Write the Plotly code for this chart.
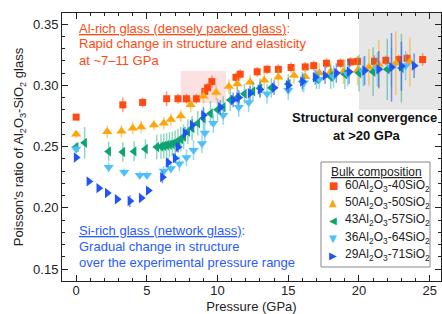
import plotly.graph_objects as go

# ---------------- data ----------------
P60 = [0.0, 3.3, 4.7, 6.4, 7.2, 7.8, 8.5, 9.1, 9.3, 9.6, 11.3, 11.6, 12.8, 13.5, 14.3, 15.2, 16.2, 16.8,
       17.7, 18.7, 19.4, 19.9, 21.1, 21.9, 22.8, 23.4, 24.5]
V60 = [0.274, 0.284, 0.286, 0.289, 0.289, 0.289, 0.289, 0.295, 0.298, 0.303, 0.3065, 0.309, 0.311, 0.313,
       0.313, 0.3145, 0.315, 0.316, 0.318, 0.318, 0.319, 0.3195, 0.3196, 0.3204, 0.321, 0.322, 0.321]
E60 = [0.002, 0.006, 0.004, 0.006, 0.004, 0.004, 0.004, 0.004, 0.004, 0.005, 0.004, 0.004, 0.004, 0.004,
       0.004, 0.004, 0.004, 0.004, 0.004, 0.004, 0.004, 0.004, 0.005, 0.004, 0.004, 0.004, 0.005]

P50 = [0.0, 2.2, 3.2, 4.0, 4.6, 5.5, 6.2, 6.7, 7.4, 8.1, 9.0, 9.9, 10.8, 11.4, 12.3, 13.3, 14.3, 15.4,
       16.2, 17.2, 18.0, 18.9, 19.9, 20.7, 21.4, 22.6, 23.6]
V50 = [0.260, 0.262, 0.2625, 0.265, 0.266, 0.2675, 0.269, 0.272, 0.275, 0.284, 0.291, 0.294, 0.299, 0.301,
       0.3025, 0.304, 0.3065, 0.308, 0.307, 0.310, 0.311, 0.311, 0.312, 0.3147, 0.317, 0.318, 0.319]
E50 = [0.003, 0.005, 0.005, 0.005, 0.005, 0.004, 0.005, 0.005, 0.005, 0.006, 0.006, 0.006, 0.006, 0.006,
       0.006, 0.007, 0.007, 0.007, 0.007, 0.008, 0.008, 0.010, 0.012, 0.015, 0.020, 0.026, 0.020]

P43 = [0.0, 0.6, 2.3, 3.3, 4.1, 4.9, 5.7, 6.0, 6.2, 6.4, 6.6, 6.8, 7.0, 7.2, 7.4, 7.6, 7.9, 8.2, 8.6,
       9.0, 9.5, 10.0, 10.4, 10.9, 11.4, 11.9, 12.5, 13.0, 13.8, 15.0, 16.0, 17.0, 18.0, 19.0, 20.0,
       21.0, 22.0, 23.0]
V43 = [0.2495, 0.253, 0.246, 0.2455, 0.246, 0.248, 0.2495, 0.250, 0.2505, 0.251, 0.2515, 0.252, 0.253,
       0.2545, 0.256, 0.258, 0.262, 0.265, 0.269, 0.273, 0.277, 0.280, 0.282, 0.288, 0.290, 0.293, 0.295,
       0.2975, 0.298, 0.301, 0.303, 0.305, 0.307, 0.309, 0.310, 0.311, 0.313, 0.314]
E43 = [0.004, 0.013, 0.008, 0.008, 0.008, 0.008, 0.010, 0.010, 0.010, 0.010, 0.010, 0.010, 0.010, 0.010,
       0.010, 0.010, 0.010, 0.010, 0.010, 0.010, 0.010, 0.009, 0.009, 0.009, 0.009, 0.008, 0.008, 0.008,
       0.008, 0.008, 0.008, 0.008, 0.010, 0.012, 0.015, 0.020, 0.025, 0.028]

P36 = [0.0, 2.3, 3.4, 4.5, 5.0, 6.2, 6.7, 7.3, 7.8, 8.3, 8.9, 9.1, 9.7, 10.4, 11.5, 12.2, 13.5, 15.0,
       16.1, 17.2, 18.2, 19.2, 20.3, 21.3, 22.3, 23.3]
V36 = [0.248, 0.233, 0.229, 0.2265, 0.2265, 0.230, 0.232, 0.236, 0.241, 0.247, 0.2525, 0.261, 0.269,
       0.2755, 0.282, 0.286, 0.293, 0.296, 0.302, 0.305, 0.307, 0.309, 0.311, 0.313, 0.3145, 0.316]
E36 = [0.003, 0.004, 0.003, 0.003, 0.003, 0.004, 0.004, 0.006, 0.007, 0.008, 0.008, 0.008, 0.008, 0.008,
       0.008, 0.008, 0.008, 0.008, 0.008, 0.008, 0.009, 0.010, 0.012, 0.014, 0.016, 0.012]

P29 = [0.0, 0.9, 1.6, 2.2, 2.9, 3.8, 4.6, 5.1, 6.1, 6.5, 7.0, 7.2, 7.7, 8.2, 9.0, 10.2, 11.1, 11.5, 12.3,
       13.0, 14.0, 15.0, 16.0, 16.9, 17.6, 18.4, 19.3, 20.4, 21.4, 22.3, 23.0, 23.9]
V29 = [0.241, 0.2215, 0.216, 0.212, 0.207, 0.2055, 0.208, 0.214, 0.225, 0.237, 0.2405, 0.2495, 0.261,
       0.2675, 0.2755, 0.282, 0.288, 0.290, 0.2935, 0.2965, 0.298, 0.300, 0.303, 0.3065, 0.308, 0.310,
       0.311, 0.312, 0.313, 0.3147, 0.3155, 0.316]
E29 = [0.002, 0.002, 0.002, 0.002, 0.002, 0.005, 0.002, 0.002, 0.005, 0.004, 0.004, 0.004, 0.005, 0.005,
       0.006, 0.006, 0.006, 0.006, 0.006, 0.006, 0.006, 0.006, 0.006, 0.006, 0.007, 0.008, 0.010, 0.012,
       0.015, 0.028, 0.020, 0.010]

NAMES = ["60Al<sub>2</sub>O<sub>3</sub>-40SiO<sub>2</sub>", "50Al<sub>2</sub>O<sub>3</sub>-50SiO<sub>2</sub>",
         "43Al<sub>2</sub>O<sub>3</sub>-57SiO<sub>2</sub>", "36Al<sub>2</sub>O<sub>3</sub>-64SiO<sub>2</sub>",
         "29Al<sub>2</sub>O<sub>3</sub>-71SiO<sub>2</sub>"]
LEGEND_TITLE = "Bulk composition"

SERIES = [
    (P60, V60, E60, "square", "\u25A0", "#FF4A12", "rgba(255,74,18,0.55)", 7),
    (P50, V50, E50, "triangle-up", "\u25B2", "#FFA50A", "rgba(255,165,10,0.55)", 9),
    (P43, V43, E43, "triangle-left", "\u25C0", "#0FA374", "rgba(15,163,116,0.45)", 9),
    (P36, V36, E36, "triangle-down", "\u25BC", "#4DC0FA", "rgba(77,192,250,0.6)", 9),
    (P29, V29, E29, "triangle-right", "\u25B6", "#1F55F5", "rgba(31,85,245,0.6)", 9),
]

FONT = "Liberation Sans, Arial, sans-serif"
YR = [0.1402, 0.359]
XR = [-1, 25.8]

fig = go.Figure()
for name, (xs, ys, es, sym, glyph, col, ecol, sz) in zip(NAMES, SERIES):
    fig.add_trace(go.Scatter(
        x=xs, y=ys, mode="markers", name=name, showlegend=False,
        marker=dict(symbol=sym, color=col, size=sz, line=dict(width=0)),
        error_y=dict(type="data", array=es, visible=True, color=ecol, thickness=1.5, width=0),
    ))

L, T, W, H = 62, 13, 379, 268  # plot area in picture pixels


def px(xp):
    return (xp - L) / W


def py(yp):
    return (T + H - yp) / H


# highlighted regions
fig.add_shape(type="rect", xref="x", yref="paper", x0=20, x1=26, y0=(0.28 - YR[0]) / (YR[1] - YR[0]), y1=1,
              fillcolor="#E6E6E6", line=dict(width=0), layer="below")
fig.add_shape(type="rect", xref="x", yref="y", x0=7.4, x1=10.6, y0=0.2855, y1=0.3116,
              fillcolor="#FBE1E1", line=dict(width=0), layer="below")

ORANGE = "#FF4A12"
BLUE = "#2A5BFF"
texts = [
    ("<u>Al-rich glass (densely packed glass)</u>:", 77, 28, ORANGE, "left"),
    ("Rapid change in structure and elasticity", 77, 44, ORANGE, "left"),
    ("at ~7\u201311 GPa", 77, 60, ORANGE, "left"),
    ("<u>Si-rich glass (network glass)</u>:", 77, 230, BLUE, "left"),
    ("Gradual change in structure", 77, 246, BLUE, "left"),
    ("over the experimental pressure range", 77, 262, BLUE, "left"),
    ("<b>Structural convergence</b>", 364, 118, "#111111", "center"),
    ("<b>at >20 GPa</b>", 367, 135, "#111111", "center"),
]
for t, xx, yy, c, anc in texts:
    fig.add_annotation(text=t, xref="paper", yref="paper", x=px(xx), y=py(yy), xanchor=anc, yanchor="middle",
                       showarrow=False, font=dict(family=FONT, size=13, color=c))

# legend box (drawn manually to match compact spacing)
fig.add_shape(type="rect", xref="paper", yref="paper", x0=px(321), x1=px(430), y0=py(267), y1=py(162),
              fillcolor="white", line=dict(color="#888888", width=1), layer="above")
fig.add_annotation(text="<u>" + LEGEND_TITLE + "</u>", xref="paper", yref="paper", x=px(376), y=py(172),
                   xanchor="center", yanchor="middle", showarrow=False,
                   font=dict(family=FONT, size=12, color="#222"))
LEG_Y = [186, 203, 220, 238, 255]
for name, s, ly in zip(NAMES, SERIES, LEG_Y):
    glyph, col = s[4], s[5]
    fig.add_annotation(text=glyph, xref="paper", yref="paper", x=px(333), y=py(ly), xanchor="center",
                       yanchor="middle", showarrow=False, font=dict(family="DejaVu Sans", size=10, color=col))
    fig.add_annotation(text=name, xref="paper", yref="paper", x=px(343), y=py(ly), xanchor="left",
                       yanchor="middle", showarrow=False, font=dict(family=FONT, size=12, color="#222"))

fig.update_layout(
    width=442, height=314,
    margin=dict(l=L, r=442 - L - W, t=T, b=314 - T - H),
    paper_bgcolor="white", plot_bgcolor="white",
    font=dict(family=FONT, size=13, color="#222222"),
    showlegend=False,
    xaxis=dict(
        range=XR, showline=True, linecolor="#222", linewidth=1, mirror="ticks",
        ticks="inside", ticklen=6, tickcolor="#222", tickwidth=1, dtick=5, tick0=0,
        minor=dict(ticks="inside", ticklen=3, dtick=1, tick0=0, tickcolor="#222"),
        showgrid=False, zeroline=False, automargin=False, ticklabelstandoff=-3,
        title=dict(text="Pressure (GPa)", font=dict(size=13), standoff=6),
        tickfont=dict(size=13),
    ),
    yaxis=dict(
        range=YR, showline=True, linecolor="#222", linewidth=1, mirror="ticks",
        ticks="inside", ticklen=6, tickcolor="#222", tickwidth=1, dtick=0.05, tick0=0,
        tickformat=".2f", automargin=False,
        minor=dict(ticks="inside", ticklen=3, dtick=0.01, tick0=0, tickcolor="#222"),
        showgrid=False, zeroline=False,
        title=dict(text="Poisson's ratio of Al<sub>2</sub>O<sub>3</sub>-SiO<sub>2</sub> glass",
                   font=dict(size=13), standoff=6),
        tickfont=dict(size=13),
    ),
)

fig.write_html("out.html", config={"displayModeBar": False},
               post_script="document.body.style.margin='0';document.body.style.overflow='hidden';")
